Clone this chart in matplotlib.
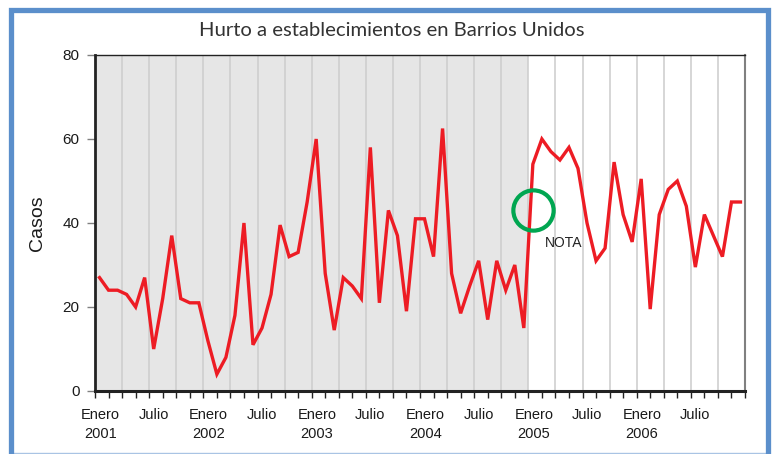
import matplotlib
matplotlib.use("Agg")
import matplotlib.pyplot as plt
from matplotlib.patches import Rectangle
from matplotlib.lines import Line2D
import numpy as np

# ---- data ----
years = [2001, 2002, 2003, 2004, 2005, 2006]
casos = [
    27, 24, 24, 23, 20, 27, 10, 22, 37, 22, 21, 21,      # 2001
    12, 4, 8, 18, 40, 11, 15, 23, 39.5, 32, 33, 45,      # 2002
    60, 28, 14.5, 27, 25, 22, 58, 21, 43, 37, 19, 41,    # 2003
    41, 32, 62.5, 28, 18.5, 25, 31, 17, 31, 24, 30, 15,  # 2004
    54, 60, 57, 55, 58, 53, 40, 31, 34, 54.5, 42, 35.5,  # 2005
    50.5, 19.5, 42, 48, 50, 44, 29.5, 42, 37, 32, 45, 45,  # 2006
]
month_labels = ["Enero", "Julio"]
title = "Hurto a establecimientos en Barrios Unidos"
ylabel = "Casos"
nota = "NOTA"
shade_months = 48          # 2001-2004 shaded
note_month = 48            # circle position (month index, Enero 2005)
note_value = 43

n = len(casos)
x = np.arange(n) + 0.5

W, H = 773, 454
fig = plt.figure(figsize=(W / 100, H / 100), dpi=100)
ax = fig.add_axes([95 / W, 1 - 391 / H, (745 - 95) / W, (391 - 55) / H])

ax.set_xlim(0, n)
ax.set_ylim(0, 80)

# shaded region
ax.axvspan(0, shade_months, color="#E6E6E6", zorder=0, lw=0)
# vertical gridlines every 3 months
for g in np.arange(3, n, 3):
    ax.axvline(g, color="#CFCFCF", lw=1.2, zorder=1)

ax.plot(x, casos, color="#ED1C24", lw=2.4, zorder=3, solid_joinstyle="miter")

# annotation circle and text
ax.plot([note_month + 0.5], [note_value], marker="o", ms=29, mfc="none",
        mec="#00A651", mew=3.0, zorder=4)
ax.text(note_month + 1.8, note_value - 7.8, nota, fontsize=10,
        family="Liberation Sans", color="#222222", va="center", ha="left")

# y axis
ax.set_yticks([0, 20, 40, 60, 80])
ax.tick_params(axis="y", direction="out", length=6, width=1, color="#808080",
               labelsize=11, pad=5)
for lab in ax.get_yticklabels():
    lab.set_family("Liberation Sans")
    lab.set_color("#1a1a1a")
ax.set_ylabel(ylabel, fontsize=14, family="Liberation Sans", color="#1a1a1a",
              labelpad=12)

# x axis: minor ticks every 1.5 months, labels at Enero/Julio
ax.set_xticks(np.arange(0, n + 0.01, 1.5), minor=True)
ax.tick_params(axis="x", which="minor", direction="out", length=5, width=1,
               color="#222222")
pos, labs = [], []
for i, yr in enumerate(years):
    pos.append(i * 12 + 0.6)
    labs.append(f"{month_labels[0]}\n{yr}")
    pos.append(i * 12 + 6.5)
    labs.append(month_labels[1])
ax.set_xticks(pos)
ax.set_xticklabels(labs, fontsize=10.5, family="Liberation Sans",
                   color="#1a1a1a", linespacing=1.5, va="top")
ax.tick_params(axis="x", which="major", length=0, pad=12)

# spines
ax.spines["left"].set_linewidth(2.0)
ax.spines["left"].set_color("#222222")
ax.spines["bottom"].set_linewidth(2.2)
ax.spines["bottom"].set_color("#222222")
ax.spines["top"].set_linewidth(1.0)
ax.spines["top"].set_color("#222222")
ax.spines["right"].set_linewidth(1.5)
ax.spines["right"].set_color("#808080")

# title
fig.text(392 / W, 1 - 31 / H, title, fontsize=14.6, family="Lato",
         color="#333333", ha="center", va="center")

# blue frame
fig.patches.append(Rectangle((10.5 / W, -0.05), (768 - 10.5) / W,
                             1.05 - 10.5 / H, transform=fig.transFigure,
                             fill=False, ec="#5B8FCB", lw=3.8, zorder=10))
fig.lines.append(Line2D([10 / W, 768 / W], [1.5 / H, 1.5 / H],
                        transform=fig.transFigure, color="#A9C4E4", lw=1))

fig.savefig("out.png", dpi=100)
